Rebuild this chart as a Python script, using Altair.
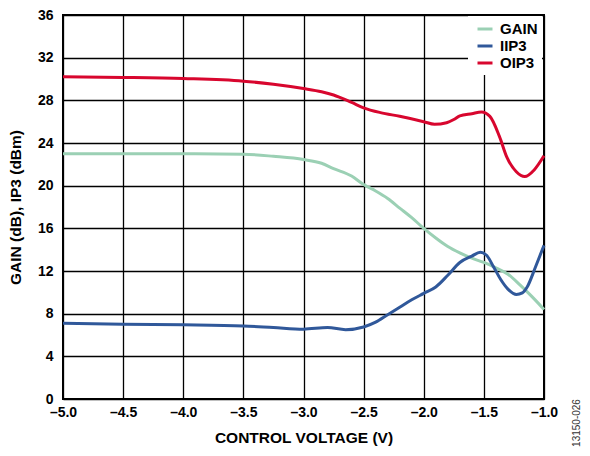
import altair as alt
import pandas as pd

FONT = "Liberation Sans"

series_names = ["GAIN", "IIP3", "OIP3"]
series_colors = ["#9BD0B4", "#30589A", "#D8062E"]

gain_v = [-5.0, -4.5, -4.0, -3.5, -3.25, -3.0, -2.85, -2.75, -2.6, -2.5, -2.4, -2.3,
          -2.2, -2.1, -2.0, -1.9, -1.8, -1.7, -1.6, -1.5, -1.4, -1.3, -1.2, -1.1, -1.0]
gain_db = [23.0, 23.0, 23.0, 22.95, 22.75, 22.45, 22.1, 21.6, 20.9, 20.1, 19.5, 18.8,
           17.9, 17.0, 16.0, 15.1, 14.3, 13.7, 13.2, 12.8, 12.3, 11.7, 10.7, 9.6, 8.4]

iip3_v = [-5.0, -4.5, -4.0, -3.5, -3.25, -3.0, -2.8, -2.65, -2.5, -2.4, -2.3, -2.2,
          -2.1, -2.0, -1.9, -1.8, -1.7, -1.6, -1.53, -1.48, -1.42, -1.36, -1.3,
          -1.23, -1.18, -1.14, -1.07, -1.0]
iip3_dbm = [7.1, 7.0, 6.95, 6.85, 6.7, 6.55, 6.7, 6.5, 6.75, 7.2, 7.9, 8.6,
            9.3, 9.9, 10.5, 11.6, 12.8, 13.4, 13.75, 13.5, 12.4, 11.2, 10.3,
            9.8, 9.95, 10.5, 12.4, 14.4]

oip3_v = [-5.0, -4.5, -4.0, -3.5, -3.25, -3.0, -2.85, -2.75, -2.6, -2.5, -2.36, -2.2,
          -2.0, -1.91, -1.81, -1.75, -1.7, -1.6, -1.52, -1.45, -1.37, -1.31, -1.23,
          -1.16, -1.08, -1.0]
oip3_dbm = [30.2, 30.15, 30.05, 29.8, 29.5, 29.1, 28.8, 28.5, 27.8, 27.3, 26.85, 26.5,
            26.0, 25.75, 25.9, 26.2, 26.55, 26.75, 26.9, 26.5, 24.6, 22.7, 21.3,
            20.85, 21.5, 22.8]

x_ticks = [-5.0, -4.5, -4.0, -3.5, -3.0, -2.5, -2.0, -1.5, -1.0]
y_ticks = [0, 4, 8, 12, 16, 20, 24, 28, 32, 36]
figure_id = "13150-026"

rows = []
for name, xs, ys in [("GAIN", gain_v, gain_db), ("IIP3", iip3_v, iip3_dbm), ("OIP3", oip3_v, oip3_dbm)]:
    for xv, yv in zip(xs, ys):
        rows.append({"series": name, "v": xv, "val": yv})
df = pd.DataFrame(rows)

lines = alt.Chart(df).mark_line(interpolate="monotone", strokeWidth=3).encode(
    x=alt.X("v:Q", scale=alt.Scale(domain=[-5, -1], nice=False, zero=False),
            axis=alt.Axis(values=x_ticks, format=".1f", title="CONTROL VOLTAGE (V)",
                          labelExpr="replace(datum.label, '\u2212', '\u2013')",
                          labelFlush=False, labelPadding=6, titlePadding=11)),
    y=alt.Y("val:Q", scale=alt.Scale(domain=[0, 36], nice=False),
            axis=alt.Axis(values=y_ticks, title="GAIN (dB), IP3 (dBm)",
                          labelPadding=10, titlePadding=14)),
    color=alt.Color("series:N",
                    scale=alt.Scale(domain=series_names, range=series_colors),
                    legend=alt.Legend(title=None, orient="none", legendX=405, legendY=1,
                                      fillColor="white", symbolType="stroke", symbolSize=225,
                                      symbolStrokeWidth=3, symbolOffset=4,
                                      labelFontSize=15, labelFont=FONT,
                                      labelFontWeight="bold", labelColor="black",
                                      padding=4, rowPadding=0, labelOffset=6)),
)

note = alt.Chart(pd.DataFrame({"t": [figure_id]})).mark_text(
    angle=270, fontSize=10, font=FONT, color="#333333", baseline="middle"
).encode(text="t:N", x=alt.value(514), y=alt.value(408))

chart = alt.layer(lines, note).properties(
    width=481, height=384,
    padding={"left": 55, "top": 7, "right": 38, "bottom": 49},
    autosize=alt.AutoSizeParams(type="none"),
).configure_axis(
    grid=True, gridColor="black", gridWidth=1.3, gridOpacity=1,
    domain=False, ticks=False,
    labelFont=FONT, labelFontWeight="bold", labelFontSize=14, labelColor="black",
    titleFont=FONT, titleFontWeight="bold", titleFontSize=15.5, titleColor="black",
).configure_view(stroke="black", strokeWidth=2)

chart.save("out.html", embed_options={"renderer": "svg", "actions": False})
